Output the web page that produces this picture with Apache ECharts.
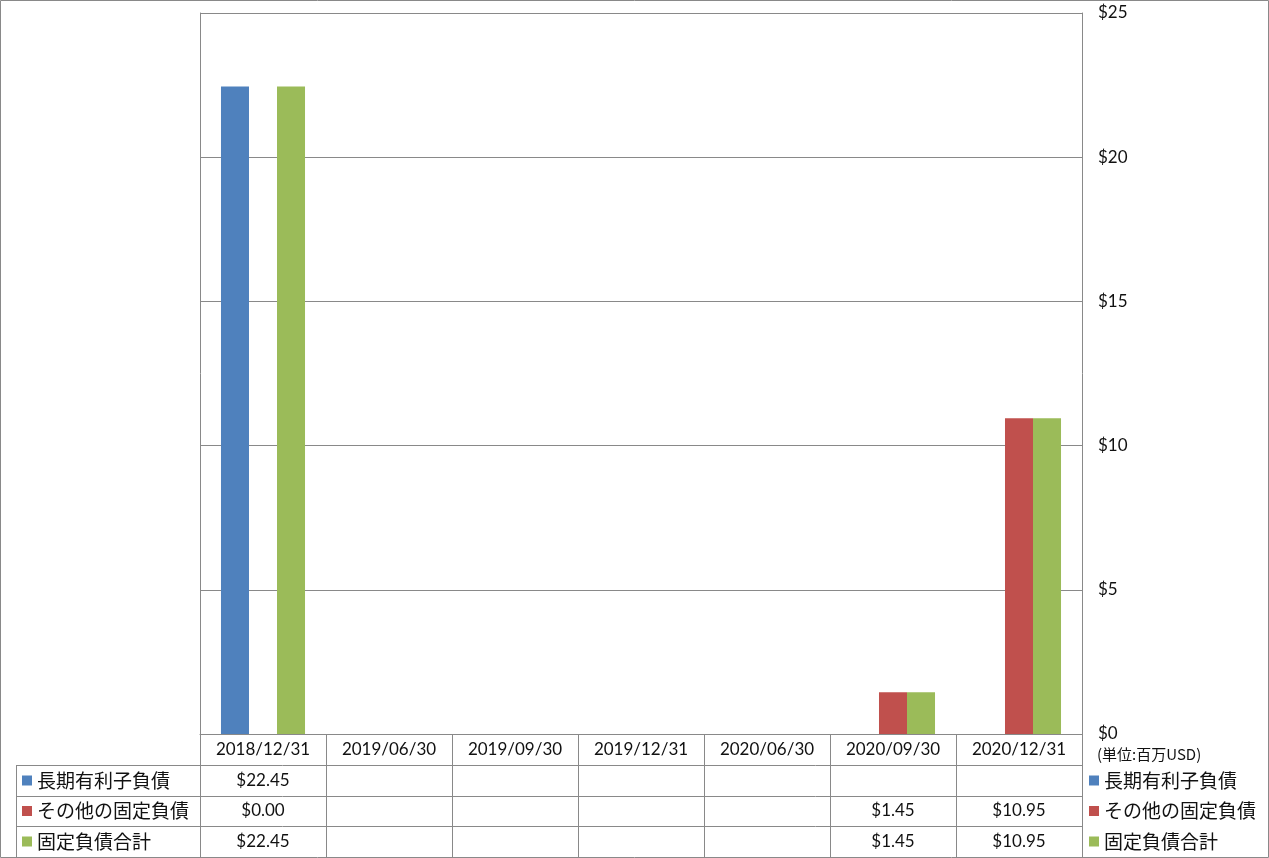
<!DOCTYPE html>
<html>
<head>
<meta charset="utf-8">
<script src="https://cdn.jsdelivr.net/npm/echarts@6/dist/echarts.min.js"></script>
<style>
html,body{margin:0;padding:0;background:#fff;}
#chart{width:1269px;height:858px;}
</style>
</head>
<body>
<div id="chart"></div>
<script>
const categories = ['2018/12/31','2019/06/30','2019/09/30','2019/12/31','2020/06/30','2020/09/30','2020/12/31'];
const seriesNames = ['長期有利子負債','その他の固定負債','固定負債合計'];
const longTermDebt = [22.45, null, null, null, null, null, null];
const otherFixed = [0.00, null, null, null, null, 1.45, 10.95];
const totalFixed = [22.45, null, null, null, null, 1.45, 10.95];
const yTicks = [0, 5, 10, 15, 20, 25];
const unitLabel = '(単位:百万USD)';

const colors = ['#4F81BD', '#C0504D', '#9BBB59'];
const lineColor = '#898989';
const numFont = 'Lato, "Liberation Sans", sans-serif';
const jpFont = '"Noto Sans CJK JP", sans-serif';

const gridLeft = 200, gridRight = 187, gridTop = 13, gridBottom = 124;
const rowOffsets = [0, 31, 62, 92];
const rowH = [31, 31, 30, 31];

const allSeries = [longTermDebt, otherFixed, totalFixed];
function fmt(v) { return v == null ? '' : '$' + v.toFixed(2); }

const chart = echarts.init(document.getElementById('chart'));

const xAxes = [{
  type: 'category', gridIndex: 0, position: 'bottom', offset: 0,
  data: categories,
  axisLine: { show: true, onZero: false, lineStyle: { color: lineColor, width: 1 } },
  axisTick: { show: true, inside: false, interval: 0, length: rowH[0], lineStyle: { color: lineColor } },
  axisLabel: { margin: 15.5, interval: 0, verticalAlign: 'middle', fontFamily: numFont, fontSize: 17, color: '#111' },
  splitLine: { show: false }
}];
allSeries.forEach((arr, i) => {
  xAxes.push({
    type: 'category', gridIndex: 0, position: 'bottom', offset: rowOffsets[i + 1],
    data: categories,
    axisLine: { show: false, onZero: false },
    axisTick: { show: true, inside: false, interval: 0, length: rowH[i + 1], lineStyle: { color: lineColor } },
    axisLabel: {
      margin: rowH[i + 1] / 2, verticalAlign: 'middle', fontFamily: numFont, fontSize: 17, color: '#111', interval: 0,
      formatter: (val, idx) => fmt(arr[idx])
    },
    splitLine: { show: false }
  });
});

const W = 1269, H = 858;
const tableBottom = H - 1;
const graphics = [
  { type: 'rect', shape: { x: 0.5, y: 0.5, width: W - 1, height: H - 1 }, style: { fill: null, stroke: lineColor, lineWidth: 1 }, silent: true, z: 100 },
  { type: 'text', left: 1097, top: 747, style: { text: unitLabel, font: '15px ' + jpFont, fill: '#111' } }
];
for (let r = 1; r < rowOffsets.length; r++) {
  const y = H - gridBottom + rowOffsets[r] + 0.5;
  graphics.push({ type: 'line', shape: { x1: 16, y1: y, x2: W - gridRight, y2: y }, style: { stroke: lineColor, lineWidth: 1 }, silent: true });
}
graphics.push({ type: 'line', shape: { x1: 16.5, y1: H - gridBottom + rowOffsets[1], x2: 16.5, y2: tableBottom }, style: { stroke: lineColor, lineWidth: 1 }, silent: true });
graphics.push({ type: 'line', shape: { x1: gridLeft + 0.5, y1: H - gridBottom, x2: gridLeft + 0.5, y2: tableBottom }, style: { stroke: lineColor, lineWidth: 1 }, silent: true });

const legendBase = {
  orient: 'vertical', icon: 'rect', itemWidth: 10, itemHeight: 10, itemGap: 10.5, padding: 0,
  selectedMode: false,
  textStyle: { fontFamily: jpFont, fontSize: 19, color: '#111', lineHeight: 20 },
  data: seriesNames
};

chart.setOption({
  animation: false,
  color: colors,
  grid: { left: gridLeft, right: gridRight, top: gridTop, bottom: gridBottom, containLabel: false },
  legend: [
    Object.assign({}, legendBase, { left: 1089, top: 770.5 }),
    Object.assign({}, legendBase, { left: 22, top: 770.5 })
  ],
  xAxis: xAxes,
  yAxis: [{
    type: 'value', position: 'right', min: yTicks[0], max: yTicks[yTicks.length - 1], interval: 5,
    axisLine: { show: true, lineStyle: { color: lineColor } },
    axisTick: { show: false },
    axisLabel: { margin: 16, fontFamily: numFont, fontSize: 17, color: '#111', formatter: v => '$' + v },
    splitLine: { show: true, lineStyle: { color: lineColor, width: 1 } }
  }, {
    type: 'value', position: 'left', min: yTicks[0], max: yTicks[yTicks.length - 1], interval: 5,
    axisLine: { show: true, lineStyle: { color: lineColor } },
    axisTick: { show: false }, axisLabel: { show: false }, splitLine: { show: false }
  }],
  series: allSeries.map((arr, i) => ({
    name: seriesNames[i], type: 'bar', xAxisIndex: 0, yAxisIndex: 0,
    data: arr, barGap: '0%', barCategoryGap: '33.3%',
    itemStyle: { color: colors[i] }
  })),
  graphic: graphics
});
</script>
</body>
</html>
